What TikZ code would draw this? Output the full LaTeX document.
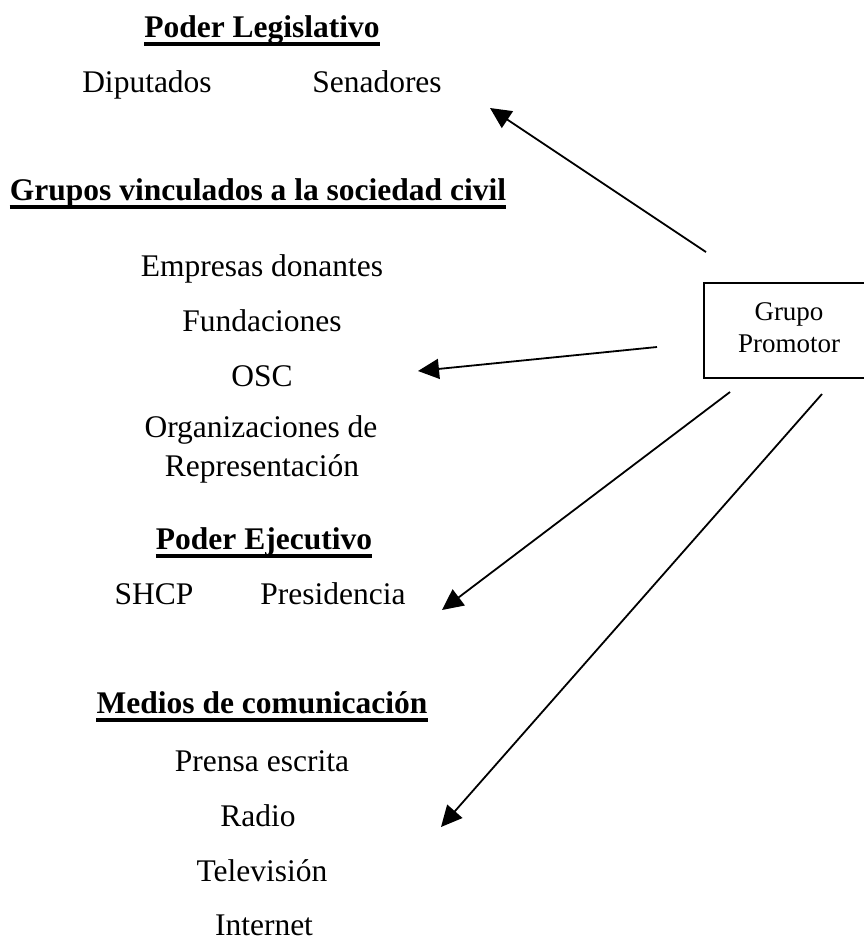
\documentclass[tikz,border=0pt]{standalone}
\usepackage{fontspec}
\setmainfont{Liberation Serif}
\usetikzlibrary{arrows.meta}
\begin{document}
\begin{tikzpicture}[x=1pt,y=-1pt,font=\fontsize{31.5}{39}\selectfont,
  txt/.style={anchor=base,inner sep=0pt},
  flecha/.style={line width=1.8pt,-{Triangle[length=21pt,width=20pt]}}]
\newcommand\titulo[4]{
\node[txt,font=\fontsize{31.5}{39}\selectfont\bfseries] (#1) at (#2,#3) {#4};
\draw[line width=3.2pt] ([yshift=-7pt]#1.base west) -- ([yshift=-7pt]#1.base east);
}
\useasboundingbox (0,0) rectangle (864,938);

\titulo{legis}{262}{37}{Poder Legislativo}
\node[txt] (diput) at (147,92) {Diputados};
\node[txt] (senad) at (377,92) {Senadores};

\titulo{civil}{258}{200}{Grupos vinculados a la sociedad civil}
\node[txt] (empresas) at (262,276) {Empresas donantes};
\node[txt] (fund) at (262,331) {Fundaciones};
\node[txt] (osc) at (262,386) {OSC};
\node[txt] (orgs) at (261,437) {Organizaciones de};
\node[txt] (repres) at (262,476) {Representación};

\titulo{ejec}{264}{549}{Poder Ejecutivo}
\node[txt] (shcp) at (154,604) {SHCP};
\node[txt] (presid) at (333,604) {Presidencia};

\titulo{medios}{262}{713}{Medios de comunicación}
\node[txt] (prensa) at (262,771) {Prensa escrita};
\node[txt] (radio) at (258,826) {Radio};
\node[txt] (tele) at (262,881) {Televisión};
\node[txt] (inter) at (264,935) {Internet};

\node[draw,line width=1.6pt,minimum width=170pt,minimum height=95pt] (promotor) at (789,330.5) {};
\node[txt,font=\fontsize{27}{33}\selectfont] (grupo) at (789,320) {Grupo};
\node[txt,font=\fontsize{27}{33}\selectfont] (prom) at (789,352) {Promotor};

% flechas del grupo promotor
\coordinate (a1) at (706,252); \coordinate (b1) at (490,108);
\coordinate (a2) at (657,347); \coordinate (b2) at (418,371);
\coordinate (a3) at (730,392); \coordinate (b3) at (442,610);
\coordinate (a4) at (822,394); \coordinate (b4) at (441,827);
\draw[flecha] (a1) -- (b1);
\draw[flecha] (a2) -- (b2);
\draw[flecha] (a3) -- (b3);
\draw[flecha] (a4) -- (b4);
\end{tikzpicture}
\end{document}
